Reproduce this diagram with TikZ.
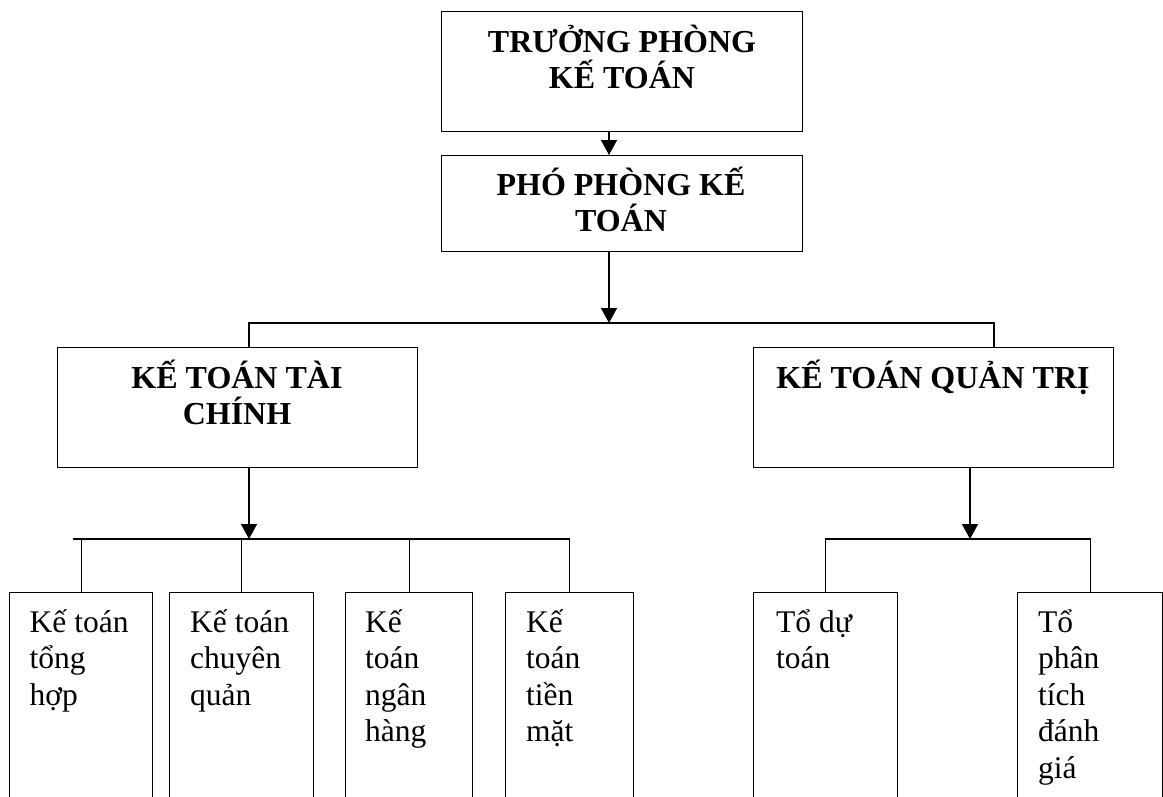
\documentclass[tikz,border=0pt]{standalone}
\usepackage{fontspec}
\setmainfont{Liberation Serif}
\usetikzlibrary{arrows.meta}
\newcommand\mytopbox[2]{\parbox[t]{#1}{#2}}
\begin{document}
\begin{tikzpicture}[x=1pt,y=-1pt,
  box/.style={draw, line width=1.4pt, rectangle, inner sep=0pt, anchor=north west},
  conn/.style={line width=1.4pt},
  arr/.style={conn, -{Triangle[length=15pt,width=16pt]}},
  head/.style={inner sep=0pt, anchor=base, font=\fontsize{32}{36.5}\selectfont\bfseries},
  lab/.style={inner sep=0pt, anchor=base west, font=\fontsize{31.5}{36.6}\selectfont},
]
\useasboundingbox (0,0) rectangle (1163,796);
\clip (0,0) rectangle (1163,796);

% top boxes
\node[box, minimum width=361pt, minimum height=120pt] (tp) at (441,11) {};
\node[head] (tpt) at (622,52) {\mytopbox{361pt}{\centering TRƯỞNG PHÒNG\\KẾ TOÁN}};
\node[box, minimum width=361pt, minimum height=96pt] (pp) at (441,155) {};
\node[head] (ppt) at (621,195) {\mytopbox{361pt}{\centering PHÓ PHÒNG KẾ\\TOÁN}};

% second level
\node[box, minimum width=360pt, minimum height=120pt] (tc) at (57,347) {};
\node[head] (tct) at (237,388) {\mytopbox{360pt}{\centering KẾ TOÁN TÀI\\CHÍNH}};
\node[box, minimum width=360pt, minimum height=120pt] (qt) at (753,347) {};
\node[head] (qtt) at (933,388) {\mytopbox{360pt}{\centering KẾ TOÁN QUẢN TRỊ}};

% bottom boxes
\node[box, minimum width=143pt, minimum height=240pt] (b1) at (9,592) {};
\node[box, minimum width=144pt, minimum height=240pt] (b2) at (169,592) {};
\node[box, minimum width=127pt, minimum height=240pt] (b3) at (345,592) {};
\node[box, minimum width=128pt, minimum height=240pt] (b4) at (505,592) {};
\node[box, minimum width=144pt, minimum height=240pt] (b5) at (753,592) {};
\node[box, minimum width=145pt, minimum height=240pt] (b6) at (1017,592) {};

\node[lab] (b1t) at (29.5,632) {\mytopbox{130pt}{Kế toán\\tổng\\hợp}};
\node[lab] (b2t) at (190,632) {\mytopbox{130pt}{Kế toán\\chuyên\\quản}};
\node[lab] (b3t) at (365,632) {\mytopbox{120pt}{Kế\\toán\\ngân\\hàng}};
\node[lab] (b4t) at (526,632) {\mytopbox{120pt}{Kế\\toán\\tiền\\mặt}};
\node[lab] (b5t) at (776,632) {\mytopbox{120pt}{Tổ dự\\toán}};
\node[lab] (b6t) at (1038,632) {\mytopbox{120pt}{Tổ\\phân\\tích\\đánh\\giá}};

% coordinates
\coordinate (c1) at (609,131);
\coordinate (c1b) at (609,155);
\coordinate (c2) at (609,251);
\coordinate (bus1) at (609,323);
\coordinate (bus1l) at (249,323);
\coordinate (bus1r) at (994,323);
\coordinate (tcd) at (249,467);
\coordinate (busL) at (249,539);
\coordinate (busLl) at (73,539);
\coordinate (qtd) at (970,467);
\coordinate (busR) at (970,539);

% connectors
\draw[arr] (c1) -- (c1b);
\draw[arr] (c2) -- (bus1);
\draw[conn] (tc.north -| bus1l) -- (bus1l) -- (bus1r) -- (bus1r |- qt.north);
\draw[arr] (tcd) -- (busL);
\draw[arr] (qtd) -- (busR);
\draw[conn] (busLl) -- (busLl -| b4.north);
\foreach \b in {b1,b2,b3,b4} \draw[conn] (\b.north) -- (\b.north |- busL);
\draw[conn] (b5.north) -- (b5.north |- busR) -- (busR -| b6.north) -- (b6.north);
\end{tikzpicture}
\end{document}
